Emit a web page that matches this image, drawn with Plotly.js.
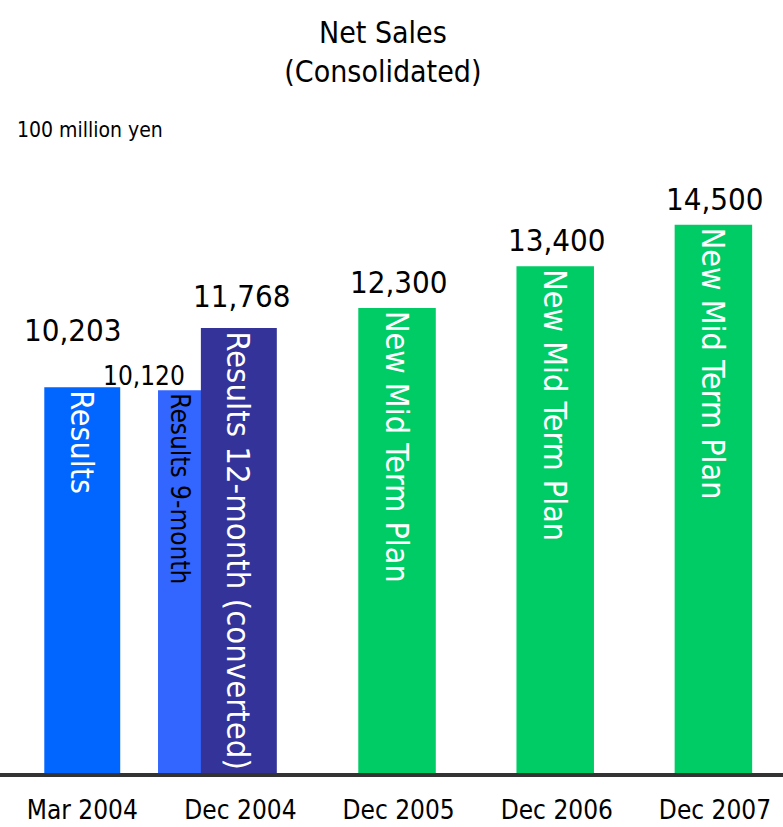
<!DOCTYPE html>
<html>
<head>
<meta charset="utf-8">
<script src="https://cdn.plot.ly/plotly-3.0.1.min.js"></script>
<style>
  html, body { margin: 0; padding: 0; background: #ffffff; }
  #chart { width: 783px; height: 827px; }
</style>
</head>
<body>
<div id="chart"></div>
<script>
// ---- data ----
const categories = ['Mar 2004', 'Dec 2004', 'Dec 2005', 'Dec 2006', 'Dec 2007'];

const resultsCats = ['Mar 2004'];
const resultsVals = [10203];
const resultsLabel = 'Results';

const nineMonthCats = ['Dec 2004'];
const nineMonthVals = [10120];
const nineMonthLabel = 'Results 9-month';

const twelveMonthCats = ['Dec 2004'];
const twelveMonthVals = [11768];
const twelveMonthLabel = 'Results 12-month (converted)';

const planCats = ['Dec 2005', 'Dec 2006', 'Dec 2007'];
const planVals = [12300, 13400, 14500];
const planLabel = 'New Mid Term Plan';

const titleText = 'Net Sales<br>(Consolidated)';
const unitText = '100 million yen';

// ---- styling ----
const FONT = '"DejaVu Sans Condensed", "Liberation Sans Narrow", "Liberation Sans", sans-serif';
const fmt = v => v.toLocaleString('en-US');

function barTrace(cats, vals, label, color, textColor, textSize, offset, width) {
  return {
    type: 'bar',
    x: cats,
    y: vals,
    text: cats.map(() => label),
    textposition: 'inside',
    insidetextanchor: 'end',
    textangle: 90,
    textfont: { family: FONT, size: textSize, color: textColor },
    marker: { color: color, line: { width: 0 } },
    offset: offset,
    width: width,
    showlegend: false,
    hoverinfo: 'skip',
    cliponaxis: false
  };
}

const traces = [
  barTrace(resultsCats, resultsVals, resultsLabel, '#0066FF', '#FFFFFF', 32, -0.24, 0.48),
  barTrace(nineMonthCats, nineMonthVals, nineMonthLabel, '#3366FF', '#000000', 26, -0.521, 0.272),
  barTrace(twelveMonthCats, twelveMonthVals, twelveMonthLabel, '#333399', '#FFFFFF', 33, -0.25, 0.48),
  barTrace(planCats, planVals, planLabel, '#00CC66', '#FFFFFF', 32, -0.255, 0.49)
];

// value labels above bars (position nudges are layout styling)
const valueLabelSpecs = [
  { cats: resultsCats, vals: resultsVals, dx: 0, xshift: -9, yshift: 37, size: 31 },
  { cats: nineMonthCats, vals: nineMonthVals, dx: -0.385, xshift: -36, yshift: -3, size: 26 },
  { cats: twelveMonthCats, vals: twelveMonthVals, dx: -0.01, xshift: 3, yshift: 12, size: 31 },
  { cats: planCats, vals: planVals, dx: 0, xshift: 0, yshift: 6, size: 31 }
];

const annotations = [];
valueLabelSpecs.forEach(s => {
  s.cats.forEach((c, i) => {
    annotations.push({
      x: categories.indexOf(c) + s.dx,
      y: s.vals[i],
      xref: 'x', yref: 'y',
      text: fmt(s.vals[i]),
      showarrow: false,
      xanchor: 'center', yanchor: 'bottom',
      xshift: s.xshift, yshift: s.yshift,
      font: { family: FONT, size: s.size, color: '#000000' }
    });
  });
});

annotations.push({
  xref: 'paper', yref: 'paper',
  x: 15 / 783, y: 1.0628,
  xanchor: 'left', yanchor: 'middle',
  text: unitText, showarrow: false,
  font: { family: FONT, size: 21, color: '#000000' }
});

const layout = {
  width: 783,
  height: 827,
  margin: { l: 0, r: 0, t: 168, b: 54, pad: 0 },
  paper_bgcolor: '#FFFFFF',
  plot_bgcolor: '#FFFFFF',
  title: {
    text: titleText,
    font: { family: FONT, size: 30, color: '#000000' },
    x: 0.489, xanchor: 'center',
    yref: 'container', y: 1 - 43 / 827, yanchor: 'top'
  },
  barmode: 'overlay',
  xaxis: {
    type: 'category',
    categoryorder: 'array',
    categoryarray: categories,
    range: [-0.52, 4.43],
    showline: true,
    linecolor: '#333333',
    linewidth: 4,
    ticks: '',
    ticklabelstandoff: 11,
    showgrid: false,
    zeroline: false,
    automargin: false,
    tickfont: { family: FONT, size: 26, color: '#000000' },
    fixedrange: true
  },
  yaxis: {
    range: [0, 16000],
    visible: false,
    showgrid: false,
    zeroline: false,
    automargin: false,
    fixedrange: true
  },
  annotations: annotations,
  showlegend: false
};

Plotly.newPlot('chart', traces, layout, { staticPlot: true, displayModeBar: false });
</script>
</body>
</html>
